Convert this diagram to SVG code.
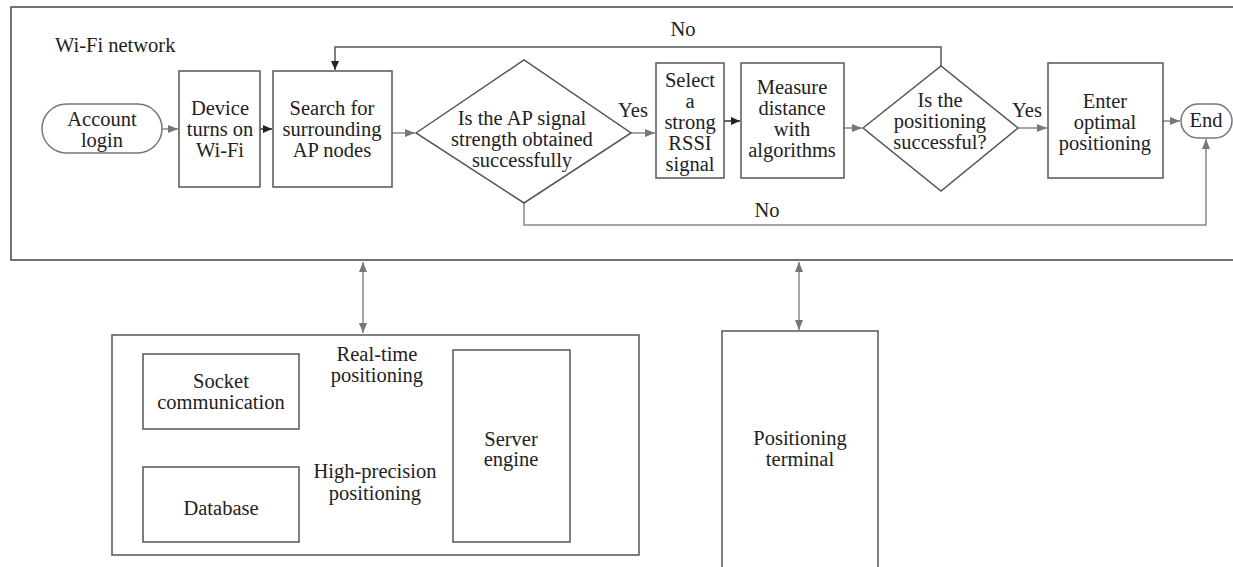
<svg xmlns="http://www.w3.org/2000/svg" width="1233" height="567" viewBox="0 0 1233 567" font-family="'Liberation Serif', Tinos, 'DejaVu Serif', serif">
<style>
text{font-family:'Liberation Serif',Tinos,'Times New Roman','DejaVu Serif',serif;font-size:20.5px;fill:#222;text-anchor:middle}
.b{fill:#fff;stroke:#555;stroke-width:1.5}
.g{fill:none;stroke:#888;stroke-width:1.5}
.k{fill:none;stroke:#333;stroke-width:1.5}
</style>
<defs>
<marker id="ag" markerWidth="10" markerHeight="8" refX="10" refY="4" orient="auto" markerUnits="userSpaceOnUse"><path d="M0,0L10,4L0,8z" fill="#777"/></marker>
<marker id="ak" markerWidth="9" markerHeight="8" refX="9" refY="4" orient="auto" markerUnits="userSpaceOnUse"><path d="M0,0L9,4L0,8z" fill="#222"/></marker>
<marker id="ags" markerWidth="10" markerHeight="8" refX="0" refY="4" orient="auto" markerUnits="userSpaceOnUse"><path d="M10,0L0,4L10,8z" fill="#777"/></marker>
<marker id="aks" markerWidth="9" markerHeight="8" refX="0" refY="4" orient="auto" markerUnits="userSpaceOnUse"><path d="M9,0L0,4L9,8z" fill="#222"/></marker>
</defs>
<g id="wifi-network">
<path d="M1240,7H11V260H1240" fill="none" stroke="#444" stroke-width="1.5"/>
<text x="55" y="52" style="text-anchor:start">Wi-Fi network</text>
</g>
<g id="connectors">
<line class="g" x1="162" y1="129" x2="178" y2="129" marker-end="url(#ag)"/>
<line class="k" x1="260" y1="129" x2="272" y2="129" marker-end="url(#ak)"/>
<line class="g" x1="392" y1="133" x2="415" y2="133" marker-end="url(#ag)"/>
<line class="g" x1="631" y1="133" x2="655" y2="133" marker-end="url(#ag)"/>
<line class="k" x1="724" y1="121" x2="740" y2="121" marker-end="url(#ak)"/>
<line class="g" x1="844" y1="128" x2="862" y2="128" marker-end="url(#ag)"/>
<line class="g" x1="1018" y1="128" x2="1047" y2="128" marker-end="url(#ag)"/>
<line class="g" x1="1163" y1="121" x2="1180" y2="121" marker-end="url(#ag)"/>
<path class="k" d="M941,66V47H335V70" marker-end="url(#ak)" style="stroke:#555"/>
<path class="g" d="M524,203V225H1206V139" marker-end="url(#ag)"/>
<line class="g" x1="363" y1="262" x2="363" y2="333" marker-start="url(#ags)" marker-end="url(#ag)"/>
<line class="g" x1="799" y1="262" x2="799" y2="330" marker-start="url(#ags)" marker-end="url(#ag)"/>
<line class="k" x1="300" y1="392" x2="452" y2="392" marker-start="url(#aks)" marker-end="url(#ak)"/>
<line class="k" x1="221" y1="429" x2="221" y2="466" marker-end="url(#ak)"/>
<text x="683" y="36">No</text>
<text x="767" y="217">No</text>
<text x="633" y="117">Yes</text>
<text x="1027" y="117">Yes</text>
</g>
<g id="account-login">
<rect class="b" x="42" y="104" width="120" height="49" rx="24.5" style="stroke:#777"/>
<text x="102" y="126">Account</text><text x="102" y="147">login</text>
</g>
<g id="device-wifi">
<rect class="b" x="179" y="71" width="81" height="116"/>
<text x="220" y="115">Device</text><text x="220" y="136">turns on</text><text x="220" y="157">Wi-Fi</text>
</g>
<g id="search-ap">
<rect class="b" x="273" y="71" width="119" height="116"/>
<text x="332" y="115">Search for</text><text x="332" y="136">surrounding</text><text x="332" y="157">AP nodes</text>
</g>
<g id="decision-ap">
<path class="b" d="M416,133L524,60L631,133L524,203z"/>
<text x="522" y="125">Is the AP signal</text><text x="522" y="146">strength obtained</text><text x="522" y="167">successfully</text>
</g>
<g id="select-rssi">
<rect class="b" x="656" y="63" width="68" height="115"/>
<text x="690" y="87">Select</text><text x="690" y="108">a</text><text x="690" y="129">strong</text><text x="690" y="150">RSSI</text><text x="690" y="171">signal</text>
</g>
<g id="measure-distance">
<rect class="b" x="741" y="63" width="103" height="115"/>
<text x="792" y="94">Measure</text><text x="792" y="115">distance</text><text x="792" y="136">with</text><text x="792" y="157">algorithms</text>
</g>
<g id="decision-positioning">
<path class="b" d="M863,128L941,66L1018,128L941,191z"/>
<text x="940" y="107">Is the</text><text x="940" y="128">positioning</text><text x="940" y="149">successful?</text>
</g>
<g id="enter-optimal">
<rect class="b" x="1048" y="63" width="115" height="115"/>
<text x="1105" y="108">Enter</text><text x="1105" y="129">optimal</text><text x="1105" y="150">positioning</text>
</g>
<g id="end">
<rect class="b" x="1181" y="104" width="51" height="34" rx="17" style="stroke:#777"/>
<text x="1206" y="127">End</text>
</g>
<g id="server-side">
<rect class="b" x="112" y="335" width="527" height="220"/>
<text x="377" y="361">Real-time</text><text x="377" y="382">positioning</text>
<text x="375" y="478">High-precision</text><text x="375" y="500">positioning</text>
</g>
<g id="socket">
<rect class="b" x="143" y="354" width="156" height="75"/>
<text x="221" y="388">Socket</text><text x="221" y="409">communication</text>
</g>
<g id="database">
<rect class="b" x="143" y="467" width="156" height="75"/>
<text x="221" y="515">Database</text>
</g>
<g id="server-engine">
<rect class="b" x="453" y="350" width="117" height="192"/>
<text x="511" y="446">Server</text><text x="511" y="466">engine</text>
</g>
<g id="positioning-terminal">
<rect class="b" x="722" y="331" width="156" height="250"/>
<text x="800" y="445">Positioning</text><text x="800" y="466">terminal</text>
</g>
</svg>
